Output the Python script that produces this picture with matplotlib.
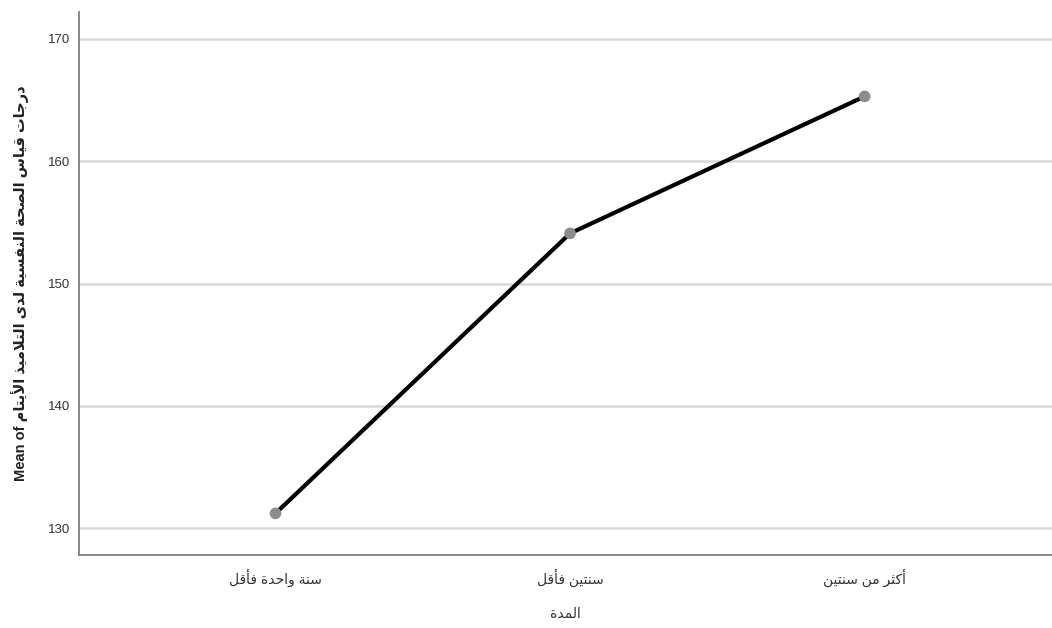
import matplotlib
matplotlib.use("Agg")
import matplotlib.pyplot as plt

# ---------------- data ----------------
categories = ["سنة واحدة فأقل", "سنتين فأقل", "أكثر من سنتين"]
means = [131.2, 154.1, 165.3]
y_ticks = [130, 140, 150, 160, 170]
x_label = "المدة"
y_label_prefix = "Mean of"
y_label_ar = "درجات قياس الصحة النفسية لدى التلاميذ الأيتام"

# ------------- minimal Arabic shaping (presentation forms + visual order) -------------
FORMS = {
    "ا": ("\uFE8D", "\uFE8E"), "أ": ("\uFE83", "\uFE84"), "إ": ("\uFE87", "\uFE88"),
    "آ": ("\uFE81", "\uFE82"), "د": ("\uFEA9", "\uFEAA"), "ذ": ("\uFEAB", "\uFEAC"),
    "ر": ("\uFEAD", "\uFEAE"), "ز": ("\uFEAF", "\uFEB0"), "و": ("\uFEED", "\uFEEE"),
    "ة": ("\uFE93", "\uFE94"), "ى": ("\uFEEF", "\uFEF0"),
    "ب": ("\uFE8F", "\uFE90", "\uFE91", "\uFE92"), "ت": ("\uFE95", "\uFE96", "\uFE97", "\uFE98"),
    "ث": ("\uFE99", "\uFE9A", "\uFE9B", "\uFE9C"), "ج": ("\uFE9D", "\uFE9E", "\uFE9F", "\uFEA0"),
    "ح": ("\uFEA1", "\uFEA2", "\uFEA3", "\uFEA4"), "خ": ("\uFEA5", "\uFEA6", "\uFEA7", "\uFEA8"),
    "س": ("\uFEB1", "\uFEB2", "\uFEB3", "\uFEB4"), "ش": ("\uFEB5", "\uFEB6", "\uFEB7", "\uFEB8"),
    "ص": ("\uFEB9", "\uFEBA", "\uFEBB", "\uFEBC"), "ع": ("\uFEC9", "\uFECA", "\uFECB", "\uFECC"),
    "ف": ("\uFED1", "\uFED2", "\uFED3", "\uFED4"), "ق": ("\uFED5", "\uFED6", "\uFED7", "\uFED8"),
    "ك": ("\uFED9", "\uFEDA", "\uFEDB", "\uFEDC"), "ل": ("\uFEDD", "\uFEDE", "\uFEDF", "\uFEE0"),
    "م": ("\uFEE1", "\uFEE2", "\uFEE3", "\uFEE4"), "ن": ("\uFEE5", "\uFEE6", "\uFEE7", "\uFEE8"),
    "ه": ("\uFEE9", "\uFEEA", "\uFEEB", "\uFEEC"), "ي": ("\uFEF1", "\uFEF2", "\uFEF3", "\uFEF4"),
}
LAM_ALEF = {"ا": ("\uFEFB", "\uFEFC"), "أ": ("\uFEF7", "\uFEF8"),
            "إ": ("\uFEF9", "\uFEFA"), "آ": ("\uFEF5", "\uFEF6")}


def shape(text):
    # merge lam-alef into single units
    units = []
    i = 0
    while i < len(text):
        c = text[i]
        if c == "ل" and i + 1 < len(text) and text[i + 1] in LAM_ALEF:
            units.append(("LA", text[i + 1]))
            i += 2
        else:
            units.append(("C", c))
            i += 1

    def is_ar(u):
        return u[0] == "LA" or u[1] in FORMS

    def joins_next(u):  # dual-joining
        return u[0] == "C" and u[1] in FORMS and len(FORMS[u[1]]) == 4

    out = []
    for k, u in enumerate(units):
        prev = units[k - 1] if k > 0 else None
        nxt = units[k + 1] if k + 1 < len(units) else None
        pc = prev is not None and joins_next(prev)
        if u[0] == "LA":
            f = LAM_ALEF[u[1]]
            out.append(f[1] if pc else f[0])
            continue
        c = u[1]
        if c not in FORMS:
            out.append(c)
            continue
        f = FORMS[c]
        nc = nxt is not None and is_ar(nxt) and len(f) == 4
        if pc and nc:
            out.append(f[3])
        elif pc:
            out.append(f[1])
        elif nc:
            out.append(f[2])
        else:
            out.append(f[0])
    return "".join(out)[::-1]


# ---------------- plot ----------------
plt.rcParams["font.family"] = ["Liberation Sans", "DejaVu Sans"]

fig = plt.figure(figsize=(10.52, 6.28), dpi=100)
ax = fig.add_axes([79 / 1052, 1 - 555 / 628, 1 - 79 / 1052, (555 - 12) / 628])

x = list(range(len(categories)))
ax.plot(x, means, color="black", lw=3, zorder=3, solid_capstyle="round")
ax.scatter(x, means, s=70, color="#8c8c8c", zorder=4, edgecolors="none")

ax.set_xlim(-0.667, 2.636)
ax.set_ylim(127.8, 172.2)
ax.set_yticks(y_ticks)
ax.set_yticklabels([str(v) for v in y_ticks])
ax.set_xticks(x)
ax.set_xticklabels([shape(c) for c in categories])

ax.yaxis.grid(True, color="#d9d9d9", lw=1.8, zorder=0)
ax.set_axisbelow(True)
for s in ["top", "right"]:
    ax.spines[s].set_visible(False)
for s in ["left", "bottom"]:
    ax.spines[s].set_color("#808080")
    ax.spines[s].set_linewidth(1.3)

ax.tick_params(axis="both", length=0, colors="#333333", labelsize=9.5)
ax.tick_params(axis="x", pad=10, labelsize=10)
ax.tick_params(axis="y", pad=6)

ax.set_xlabel(shape(x_label), fontsize=10, color="#333333", labelpad=14)
ax.set_ylabel(y_label_prefix + " " + shape(y_label_ar), fontsize=10.5,
              fontweight="bold", color="#222222", labelpad=14)

fig.savefig("out.png", dpi=100)
